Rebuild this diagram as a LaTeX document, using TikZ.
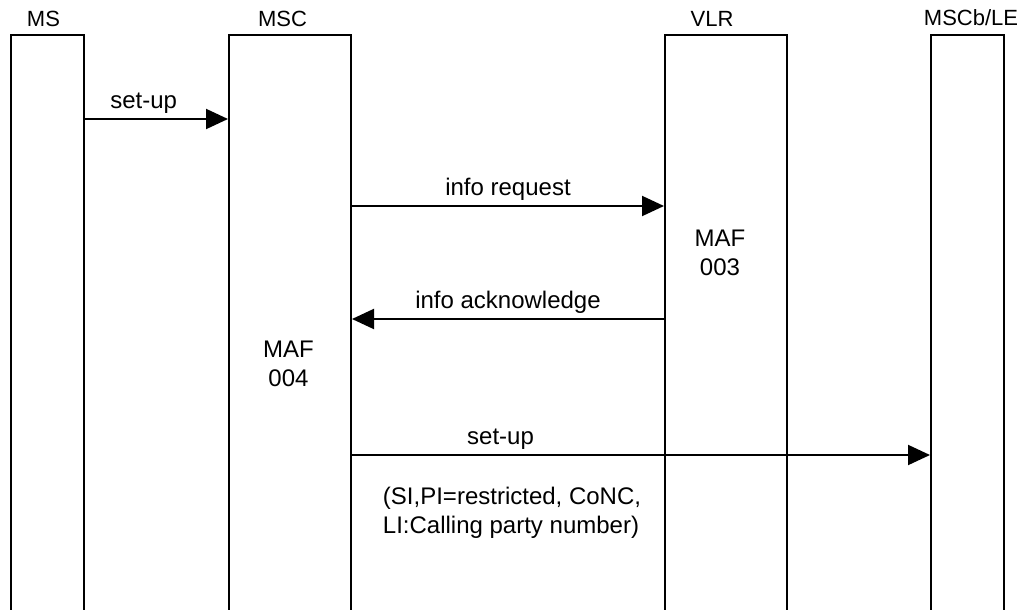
\documentclass[tikz,border=0pt]{standalone}
\usepackage{fontspec}
\setmainfont{Liberation Sans}
\usetikzlibrary{arrows.meta}

\begin{document}
\begin{tikzpicture}[
    x=1pt, y=-1pt,
    laneBox/.style={
        rectangle, draw, line width=2pt,
        anchor=north west, inner sep=0pt, minimum height=640pt
    },
    laneTitle/.style={anchor=base, inner sep=0pt, font=\fontsize{22}{26}\selectfont},
    noteText/.style={inner sep=0pt, font=\fontsize{24}{29}\selectfont},
    msgArrow/.style={line width=2pt, -{Triangle[length=22pt,width=20pt]}},
    msgLabel/.style={anchor=base, yshift=11pt, inner sep=0pt, font=\fontsize{24}{29}\selectfont}
]
    \useasboundingbox (0,0) rectangle (1026,610);

    % --- 1. Lanes ---
    \node[laneBox, minimum width=73pt] (ms) at (10,34) {};
    \node[laneBox, minimum width=122pt] (msc) at (228,34) {};
    \node[laneBox, minimum width=122pt] (vlr) at (664,34) {};
    \node[laneBox, minimum width=73pt] (mscb) at (930,34) {};

    \node[laneTitle] (msTitle) at (43.5,27) {MS};
    \node[laneTitle] (mscTitle) at (282.5,27) {MSC};
    \node[laneTitle] (vlrTitle) at (712,27) {VLR};
    \node[laneTitle] (mscbTitle) at (971,26) {MSCb/LE};

    % --- 2. Functions ---
    \node[noteText, align=center] (maf3) at (720,252.5) {MAF\\003};
    \node[noteText, align=center] (maf4) at (288.5,364) {MAF\\004};

    % --- 3. Messages ---
    \draw[msgArrow] ([yshift=-85pt]ms.north east)
        -- node[msgLabel, pos=0.41] (setupA) {set-up} ([yshift=-85pt]msc.north west);
    \draw[msgArrow] ([yshift=-172pt]msc.north east)
        -- node[msgLabel] (infoReq) {info request} ([yshift=-172pt]vlr.north west);
    \draw[msgArrow] ([yshift=-285pt]vlr.north west)
        -- node[msgLabel] (infoAck) {info acknowledge} ([yshift=-285pt]msc.north east);
    \draw[msgArrow] ([yshift=-421pt]msc.north east)
        -- node[msgLabel, pos=0.257] (setupB) {set-up} ([yshift=-421pt]mscb.north west);

    \node[noteText, align=left] (params) at (512,513)
        {(SI,PI=restricted, CoNC,\\LI:Calling party number)};
\end{tikzpicture}
\end{document}
